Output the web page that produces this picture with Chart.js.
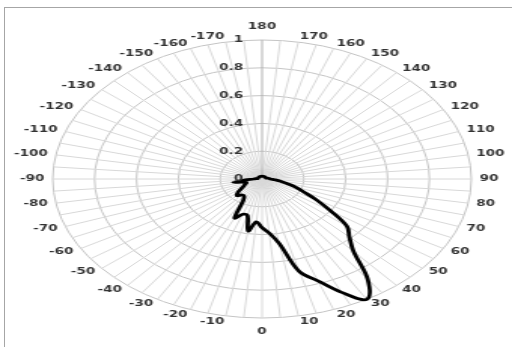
<!DOCTYPE html>
<html>
<head>
<meta charset="utf-8">
<script src="https://cdn.jsdelivr.net/npm/chart.js@4.4.1/dist/chart.umd.min.js"></script>
<style>
  html, body { margin: 0; padding: 0; background: #fff; overflow: hidden; }
  body { width: 512px; height: 347px; position: relative; }
  #frame { position: absolute; left: 4px; top: 7px; width: 600px; height: 400px;
           border-top: 1px solid #a6a6a6; border-left: 1px solid #a6a6a6; }
  /* the picture is a round polar plot stretched sideways */
  #wrap { position: absolute; left: 0; top: 0; width: 340px; height: 347px;
          transform: scale(1.50588, 1); transform-origin: 0 0; }
</style>
</head>
<body>
<div id="frame"></div>
<div id="wrap"><canvas id="polar"></canvas></div>
<script>
// angle categories, clockwise from the top
const angles = [180, 175, 170, 165, 160, 155, 150, 145, 140, 135, 130, 125, 120, 115, 110, 105,
  100, 95, 90, 85, 80, 75, 70, 65, 60, 55, 50, 45, 40, 35, 30, 25, 20, 15, 10, 5, 0,
  -5, -10, -15, -20, -25, -30, -35, -40, -45, -50, -55, -60, -65, -70, -75, -80, -85, -90,
  -95, -100, -105, -110, -115, -120, -125, -130, -135, -140, -145, -150, -155, -160, -165, -170, -175];

const values = [0.02, 0.02, 0.02, 0.02, 0.02, 0.02, 0.02, 0.02, 0.02, 0.02, 0.02, 0.02, 0.02, 0.02, 0.02, 0.025,
  0.03, 0.035, 0.04, 0.06, 0.09, 0.12, 0.17, 0.22, 0.30, 0.40, 0.53, 0.59, 0.68, 0.88, 1.00, 0.90, 0.78, 0.69, 0.47, 0.39, 0.35,
  0.31, 0.38, 0.27, 0.27, 0.31, 0.18, 0.15, 0.15, 0.17, 0.15, 0.12, 0.10, 0.09, 0.08, 0.08, 0.14, 0.08, 0.04,
  0.03, 0.02, 0.02, 0.02, 0.02, 0.02, 0.02, 0.02, 0.02, 0.02, 0.02, 0.02, 0.02, 0.02, 0.02, 0.02, 0.02];

const tickValues = [0, 0.2, 0.4, 0.6, 0.8, 1];
const tickLabels = ['0', '0.2', '0.4', '0.6', '0.8', '1'];

const FONT = 'bold 9px "DejaVu Sans", Verdana, sans-serif';
const TEXT = '#333333';

// value labels just left of the vertical axis, angle labels round the rim
const labelsPlugin = {
  id: 'polarLabels',
  afterDatasetsDraw(chart) {
    const r = chart.scales.r;
    const ctx = chart.ctx;
    ctx.save();
    ctx.font = FONT;
    ctx.fillStyle = TEXT;
    ctx.textBaseline = 'middle';

    ctx.textAlign = 'right';
    tickValues.forEach((v, i) => {
      const y = r.yCenter - r.getDistanceFromCenterForValue(v);
      ctx.fillText(tickLabels[i], r.xCenter - 12.5, y);
    });

    angles.forEach((a, i) => {
      if (a % 10 !== 0) return;
      const deg = i * 360 / angles.length;
      let p;
      if (deg === 0 || deg === 180) {
        p = r.getPointPosition(i, r.drawingArea + 13.5);
        ctx.textAlign = 'center';
      } else {
        p = r.getPointPosition(i, r.drawingArea + 5.5);
        ctx.textAlign = deg < 180 ? 'left' : 'right';
      }
      ctx.fillText(String(a), p.x, p.y);
    });
    ctx.restore();
  }
};

new Chart(document.getElementById('polar'), {
  type: 'radar',
  data: {
    labels: angles.map(String),
    datasets: [{
      data: values,
      borderColor: '#000',
      borderWidth: 2.8,
      fill: false,
      pointRadius: 0,
      tension: 0.35
    }]
  },
  options: {
    responsive: true,
    maintainAspectRatio: false,
    animation: false,
    layout: { padding: { left: 8, right: 0, top: 40, bottom: 28 } },
    plugins: { legend: { display: false }, tooltip: { enabled: false } },
    scales: {
      r: {
        min: 0,
        max: 1,
        ticks: { stepSize: 0.2, display: false },
        grid: { circular: true, color: '#c4c4c4', lineWidth: 1 },
        angleLines: {
          color: c => (c.index === 0 ? '#b0b0b0' : '#d8d8d8'),
          lineWidth: 1
        },
        pointLabels: { display: false }
      }
    }
  },
  plugins: [labelsPlugin]
});
</script>
</body>
</html>
